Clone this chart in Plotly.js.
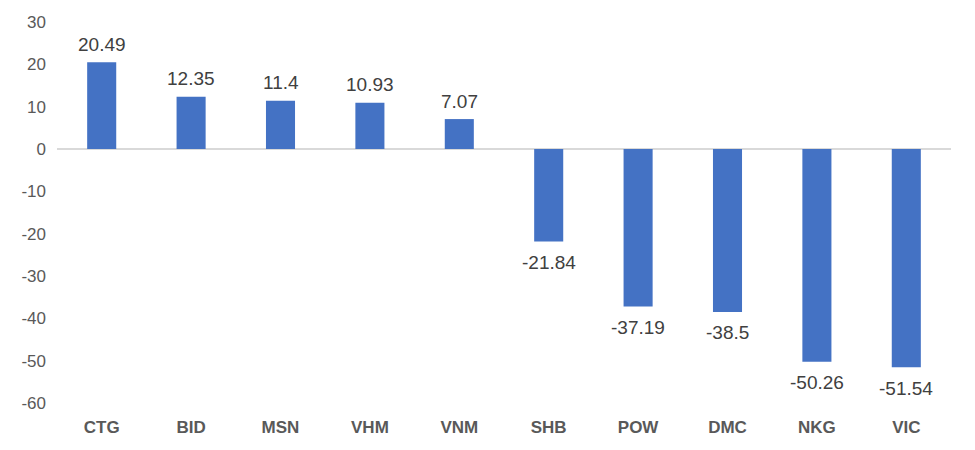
<!DOCTYPE html>
<html>
<head>
<meta charset="utf-8">
<script src="https://cdn.plot.ly/plotly-3.0.1.min.js"></script>
<style>html,body{margin:0;padding:0;background:#fff;}#chart{width:975px;height:450px;}</style>
</head>
<body>
<div id="chart"></div>
<script>
const categories = ["CTG","BID","MSN","VHM","VNM","SHB","POW","DMC","NKG","VIC"];
const values = [20.49, 12.35, 11.4, 10.93, 7.07, -21.84, -37.19, -38.5, -50.26, -51.54];
const yTicks = [30, 20, 10, 0, -10, -20, -30, -40, -50, -60];

const annotations = categories.map((c, i) => ({
  x: c, y: values[i], xref: 'x', yref: 'y',
  text: String(values[i]), showarrow: false,
  yanchor: 'middle', yshift: values[i] >= 0 ? 18 : -21,
  font: {family: 'Liberation Sans, Arial, sans-serif', size: 19, color: '#404040'}
}));

Plotly.newPlot('chart', [{
  type: 'bar', x: categories, y: values,
  marker: {color: '#4472C4'},
  hoverinfo: 'none'
}], {
  width: 975, height: 450,
  margin: {l: 57, r: 24, t: 22, b: 47},
  paper_bgcolor: '#fff', plot_bgcolor: '#fff',
  bargap: 0.675,
  showlegend: false,
  xaxis: {
    type: 'category', showgrid: false, showline: false, zeroline: false,
    ticks: '', ticklabelstandoff: 12,
    tickfont: {family: 'Liberation Sans, Arial, sans-serif', size: 17, color: '#595959', weight: 'bold'}
  },
  yaxis: {
    range: [-60, 30], tickvals: yTicks, ticktext: yTicks.map(String),
    showgrid: false, showline: false, zeroline: true,
    zerolinecolor: '#d9d9d9', zerolinewidth: 1.5,
    ticks: '', ticklabelstandoff: 10,
    tickfont: {family: 'Liberation Sans, Arial, sans-serif', size: 17, color: '#595959'}
  },
  annotations: annotations
}, {staticPlot: true, displayModeBar: false});
</script>
</body>
</html>
